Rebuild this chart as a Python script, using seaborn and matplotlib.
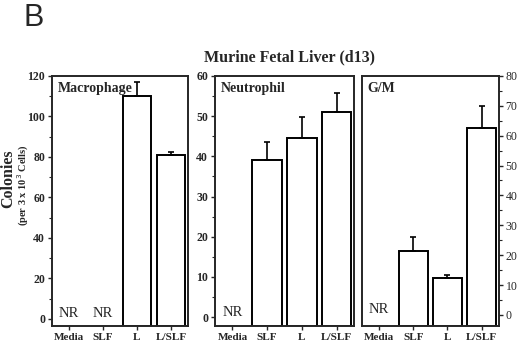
import numpy as np
import pandas as pd
import seaborn as sns
import matplotlib.pyplot as plt
from matplotlib.ticker import MultipleLocator

# Data (NaN = no response, "NR")
categories = ["Media", "SLF", "L", "L/SLF"]
macrophage = [np.nan, np.nan, 110, 81]
macrophage_err = [0, 0, 7, 1.5]
neutrophil = [np.nan, 39, 44.5, 51]
neutrophil_err = [0, 4.5, 5.3, 4.7]
gm = [np.nan, 21.5, 12.5, 62.5]
gm_err = [0, 4.7, 0.7, 7.5]

panels = ["Macrophage", "Neutrophil", "G/M"]
values = [macrophage, neutrophil, gm]
errors = [macrophage_err, neutrophil_err, gm_err]
ymax = [120, 60, 80]
ymajor = [20, 10, 10]
ymin = [-3.5, -2.2, -3.7]

sns.set_style("ticks")
plt.rcParams["font.family"] = ["Liberation Serif", "DejaVu Serif"]

fig = plt.figure(figsize=(5.2, 3.43), dpi=100)
lefts = [0.100, 0.4135, 0.696]
widths = [0.2615, 0.267, 0.263]

for i in range(3):
    ax = fig.add_axes([lefts[i], 0.0496, widths[i], 0.729])
    df = pd.DataFrame({"cat": categories, "val": values[i]})
    # bars sit on the bottom frame, so draw them up from the axis floor
    df["height"] = df["val"] - ymin[i]
    sns.barplot(data=df, x="cat", y="height", order=categories, ax=ax,
                color="white", edgecolor="black", linewidth=1.4, width=0.85,
                errorbar=None, bottom=ymin[i])
    x = np.arange(len(categories))
    v = np.array(values[i], dtype=float)
    e = np.array(errors[i], dtype=float)
    ok = ~np.isnan(v)
    ax.errorbar(x[ok], v[ok], yerr=[np.zeros(ok.sum()), e[ok]], fmt="none",
                ecolor="black", elinewidth=1.2, capsize=2, capthick=1.2)
    for j in np.where(~ok)[0]:
        ax.text(j, -0.5, "NR", ha="center", va="bottom", fontsize=10.5)
    ax.set_xlim(-0.5, 3.5)
    ax.set_ylim(ymin[i], ymax[i])
    ax.yaxis.set_major_locator(MultipleLocator(ymajor[i]))
    ax.yaxis.set_minor_locator(MultipleLocator(ymajor[i] / 2))
    ax.set_xlabel("")
    ax.set_ylabel("")
    for s in ax.spines.values():
        s.set_visible(True)
        s.set_linewidth(1.4)
    ax.tick_params(axis="both", which="major", length=3, width=1, pad=2,
                   labelsize=8.5)
    ax.tick_params(axis="x", labelsize=8)
    ax.tick_params(axis="y", which="minor", length=2, width=0.8)
    for lab in ax.get_xticklabels() + ax.get_yticklabels():
        lab.set_fontweight("bold")
    if i == 2:
        ax.yaxis.tick_right()
        ax.yaxis.set_ticks_position("right")
    ax.text(0.04, 0.975, panels[i], transform=ax.transAxes, ha="left",
            va="top", fontsize=10, fontweight="bold")

fig.text(0.556, 0.834, "Murine Fetal Liver (d13)", ha="center", va="center",
         fontsize=11.5, fontweight="bold")
fig.text(0.046, 0.948, "B", ha="left", va="center", fontsize=22,
         family="Liberation Sans")
fig.text(0.016, 0.48, "Colonies", rotation=90, ha="center", va="center",
         fontsize=11.5, fontweight="bold")
fig.text(0.045, 0.46, "(per 3 x 10$^3$ Cells)", rotation=90, ha="center",
         va="center", fontsize=7.5, fontweight="bold")

fig.savefig("out.png", dpi=100)
